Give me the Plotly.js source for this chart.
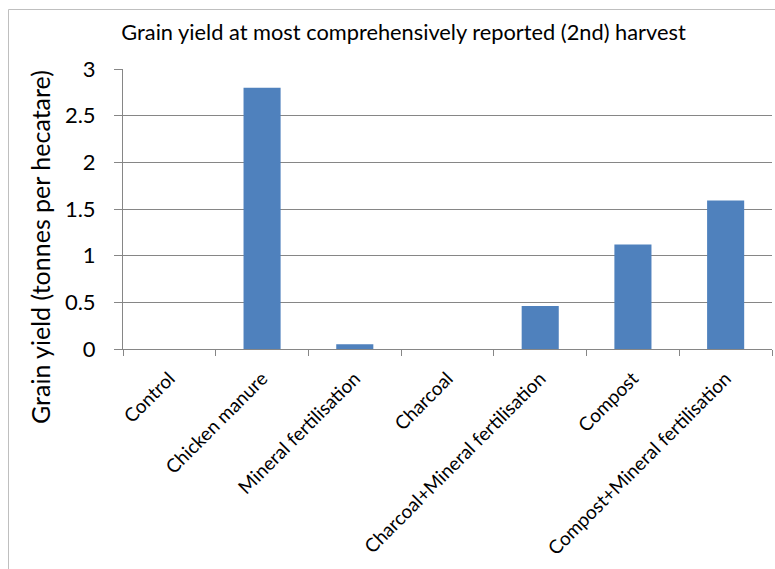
<!DOCTYPE html>
<html>
<head>
<meta charset="utf-8">
<script src="https://cdn.plot.ly/plotly-3.0.1.min.js"></script>
<style>html,body{margin:0;padding:0;background:#fff;}#chart{width:775px;height:569px;}</style>
</head>
<body>
<div id="chart"></div>
<script>
const categories = ["Control", "Chicken manure", "Mineral fertilisation", "Charcoal",
  "Charcoal+Mineral fertilisation", "Compost", "Compost+Mineral fertilisation"];
const yieldValues = [0, 2.80, 0.05, 0, 0.46, 1.12, 1.59];
const yTickVals = [0, 0.5, 1, 1.5, 2, 2.5, 3];
const yTickText = ["0", "0.5", "1", "1.5", "2", "2.5", "3"];
const chartTitle = "Grain yield at most comprehensively reported (2nd) harvest";
const yTitle = "Grain yield (tonnes per hecatare)";

const FONT = "Lato, 'Open Sans', sans-serif";
const W = 775, H = 569, L = 123, R = 3, T = 69, B = 220;
const pw = W - L - R, ph = H - T - B;
const px = x => (x - L) / pw;
const py = y => (H - B - y) / ph;

const trace = {
  type: 'bar',
  x: categories,
  y: yieldValues,
  marker: {color: '#4F81BD', line: {width: 0}},
  hoverinfo: 'x+y'
};

const layout = {
  width: W, height: H,
  margin: {l: L, r: R, t: T, b: B, pad: 0},
  paper_bgcolor: '#ffffff', plot_bgcolor: '#ffffff',
  font: {family: FONT, color: '#000'},
  showlegend: false,
  bargap: 0.6,
  title: {text: chartTitle, font: {family: FONT, size: 21.8, color: '#000'},
          x: 403.5 / W, xref: 'container', xanchor: 'center', y: 1 - 32 / H, yref: 'container', yanchor: 'middle'},
  xaxis: {
    type: 'category',
    tickson: 'boundaries',
    ticks: 'outside', ticklen: 6, tickcolor: '#868686', tickwidth: 1,
    tickangle: -45,
    ticklabelstandoff: 10,
    tickfont: {family: FONT, size: 19, color: '#000'},
    showline: true, linecolor: '#868686', linewidth: 1,
    showgrid: false, zeroline: false,
    range: [-0.5, 6.5],
    fixedrange: true
  },
  yaxis: {
    range: [0, 3],
    tickvals: yTickVals, ticktext: yTickText,
    ticks: 'outside', ticklen: 8, tickcolor: '#868686', tickwidth: 1,
    ticklabelstandoff: 14,
    tickfont: {family: FONT, size: 22, color: '#000'},
    showgrid: true, gridcolor: '#868686', gridwidth: 1,
    showline: true, linecolor: '#868686', linewidth: 1,
    zeroline: false,
    fixedrange: true
  },
  annotations: [{
    text: yTitle, xref: 'paper', yref: 'paper',
    x: px(40), y: py(247), xanchor: 'center', yanchor: 'middle',
    textangle: -90, showarrow: false,
    font: {family: FONT, size: 25, color: '#000'}
  }],
  shapes: [{
    type: 'rect', xref: 'paper', yref: 'paper',
    x0: px(8.5), x1: px(800), y0: py(9.5), y1: py(620),
    line: {color: '#BFBFBF', width: 1}, fillcolor: 'rgba(0,0,0,0)', layer: 'below'
  }]
};

Plotly.newPlot('chart', [trace], layout, {displayModeBar: false, staticPlot: true});
</script>
</body>
</html>
